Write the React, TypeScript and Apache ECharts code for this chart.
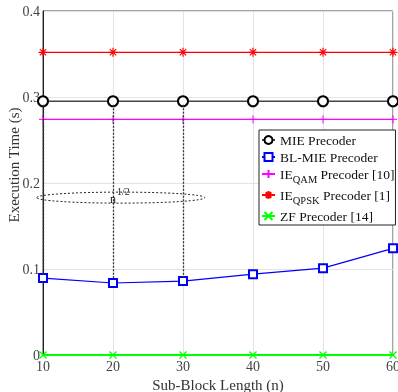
import React, { useEffect, useRef } from "react";
import * as echarts from "echarts";

const xValues = [10, 20, 30, 40, 50, 60];
const mieValues = [0.295, 0.295, 0.295, 0.295, 0.295, 0.295];
const blMieValues = [0.0895, 0.0837, 0.086, 0.094, 0.101, 0.124];
const ieQamValues = [0.274, 0.274, 0.274, 0.274, 0.274, 0.274];
const ieQpskValues = [0.352, 0.352, 0.352, 0.352, 0.352, 0.352];
const zfValues = [0, 0, 0, 0, 0, 0];
const arrowXs = [10, 20, 30];
const ellipseCenter = [21.1, 0.183];
const ellipseRadius = [12, 0.0064];

const FONT = "Liberation Serif";

const plusPath = "path://M5,0L5,10M0,5L10,5";
const starPath = "path://M5,0L5,10M0,5L10,5M1.5,1.5L8.5,8.5M8.5,1.5L1.5,8.5";
const xPath = "path://M0,0L10,10M10,0L0,10";

const pairs = (vals: number[]) => xValues.map((x, i) => [x, vals[i]]);

export default function App() {
  const ref = useRef<HTMLDivElement>(null);
  useEffect(() => {
    if (!ref.current) return;
    const chart = echarts.init(ref.current, null, { renderer: "svg" });
    const legendNames: Record<string, string> = {
      "MIE Precoder": "{n|MIE Precoder}",
      "BL-MIE Precoder": "{n|BL-MIE Precoder}",
      "IE_QAM Precoder [10]": "{n|IE}{s|QAM}{n| Precoder [10]}",
      "IE_QPSK Precoder [1]": "{n|IE}{s|QPSK}{n| Precoder [1]}",
      "ZF Precoder [14]": "{n|ZF Precoder [14]}",
    };
    chart.setOption({
      animation: false,
      textStyle: { fontFamily: FONT },
      grid: {
        left: 43,
        right: 5,
        top: 11,
        bottom: 37,
        containLabel: false,
        outerBoundsMode: "none",
        show: true,
        borderColor: "#444",
        borderWidth: 1,
      },
      graphic: [
        {
          type: "text",
          x: 14,
          y: 165,
          rotation: Math.PI / 2,
          style: {
            text: "Execution Time (s)",
            fontFamily: FONT,
            fontSize: 15,
            fill: "#333",
            align: "center",
            verticalAlign: "middle",
          },
        },
      ],
      xAxis: {
        type: "value",
        min: 10,
        max: 60,
        interval: 10,
        name: "Sub-Block Length (n)",
        nameLocation: "middle",
        nameGap: 19,
        nameTextStyle: { fontFamily: FONT, fontSize: 15, color: "#333" },
        axisLine: { lineStyle: { color: "#222", width: 1 } },
        axisTick: { show: false },
        axisLabel: { fontFamily: FONT, fontSize: 14, color: "#444", margin: 4 },
        splitLine: { lineStyle: { color: "#e3e3e3", width: 1 } },
      },
      yAxis: {
        type: "value",
        min: 0,
        max: 0.4,
        interval: 0.1,
        axisLine: { show: true, lineStyle: { color: "#222", width: 1 } },
        axisTick: { show: false },
        axisLabel: {
          fontFamily: FONT,
          fontSize: 14,
          color: "#444",
          margin: 3,
          formatter: (v: number) => (v === 0 ? "0" : String(Math.round(v * 10) / 10)),
        },
        splitLine: { lineStyle: { color: "#e3e3e3", width: 1 } },
      },
      legend: {
        orient: "vertical",
        left: 259,
        top: 130,
        backgroundColor: "#fff",
        borderColor: "#222",
        borderWidth: 1,
        borderRadius: 0,
        padding: [3, 1, 2, 2],
        itemGap: 3,
        itemWidth: 13,
        itemHeight: 10,
        data: Object.keys(legendNames),
        formatter: (name: string) => legendNames[name],
        textStyle: {
          fontFamily: FONT,
          fontSize: 13.5,
          color: "#111",
          rich: {
            n: { fontFamily: FONT, fontSize: 13.5, color: "#111", lineHeight: 14 },
            s: { fontFamily: FONT, fontSize: 10.5, color: "#111", padding: [11, 0, 0, 0] },
          },
        },
      },
      series: [
        {
          name: "IE_QPSK Precoder [1]",
          type: "line",
          data: pairs(ieQpskValues),
          symbol: starPath,
          symbolSize: 9,
          lineStyle: { color: "#ff0000", width: 1.2 },
          itemStyle: { color: "#ff0000", borderColor: "#ff0000", borderWidth: 1.2 },
        },
        {
          name: "IE_QAM Precoder [10]",
          type: "line",
          data: pairs(ieQamValues),
          symbol: plusPath,
          symbolSize: 8,
          lineStyle: { color: "#ff00ff", width: 1.2 },
          itemStyle: { color: "#ff00ff", borderColor: "#ff00ff", borderWidth: 1 },
        },
        {
          name: "MIE Precoder",
          type: "line",
          data: pairs(mieValues),
          symbol: "emptyCircle",
          symbolSize: 10,
          lineStyle: { color: "#444", width: 1.6 },
          itemStyle: { color: "#000", borderColor: "#000", borderWidth: 1.2 },
          z: 3,
          markLine: {
            silent: true,
            symbol: ["none", "arrow"],
            symbolSize: [0, 6],
            label: { show: false },
            lineStyle: { color: "#333", type: [2, 1.5], width: 1.3 },
            data: arrowXs.map((x) => [
              { coord: [x, mieValues[xValues.indexOf(x)] - 0.004] },
              { coord: [x, blMieValues[xValues.indexOf(x)] + 0.004] },
            ]),
          },
        },
        {
          name: "BL-MIE Precoder",
          type: "line",
          data: pairs(blMieValues),
          symbol: "emptyRect",
          symbolSize: 8,
          lineStyle: { color: "#0000ff", width: 1.2 },
          itemStyle: { color: "#0000ff", borderColor: "#0000ff", borderWidth: 1.2 },
          z: 3,
        },
        {
          name: "ZF Precoder [14]",
          type: "line",
          data: pairs(zfValues),
          symbol: xPath,
          symbolSize: 7,
          lineStyle: { color: "#00ff00", width: 2 },
          itemStyle: { color: "#00ff00", borderColor: "#00ff00", borderWidth: 1.3 },
          z: 4,
        },
        {
          name: "annotation",
          type: "custom",
          silent: true,
          clip: false,
          data: [[ellipseCenter[0], ellipseCenter[1]]],
          renderItem: (params: any, api: any) => {
            const c = api.coord([ellipseCenter[0], ellipseCenter[1]]);
            const e = api.coord([ellipseCenter[0] + ellipseRadius[0], ellipseCenter[1] + ellipseRadius[1]]);
            const t = api.coord([20, ellipseCenter[1]]);
            return {
              type: "group",
              children: [
                {
                  type: "ellipse",
                  shape: { cx: c[0], cy: c[1], rx: Math.abs(e[0] - c[0]), ry: Math.abs(e[1] - c[1]) },
                  style: { fill: "none", stroke: "#222", lineWidth: 1, lineDash: [2, 2] },
                },
                {
                  type: "text",
                  x: t[0],
                  y: t[1] + 1,
                  style: {
                    text: "n",
                    fontFamily: FONT,
                    fontSize: 12,
                    fill: "#222",
                    align: "center",
                    verticalAlign: "middle",
                  },
                },
                {
                  type: "text",
                  x: t[0] + 4,
                  y: t[1] - 6,
                  style: {
                    text: "1/2",
                    fontFamily: FONT,
                    fontSize: 10,
                    fill: "#222",
                    align: "left",
                    verticalAlign: "middle",
                  },
                },
              ],
            };
          },
          z: 5,
        },
      ],
    });
    return () => chart.dispose();
  }, []);
  return (
    <div
      ref={ref}
      style={{ width: 398, height: 392, position: "fixed", left: 0, top: 0 }}
    />
  );
}
